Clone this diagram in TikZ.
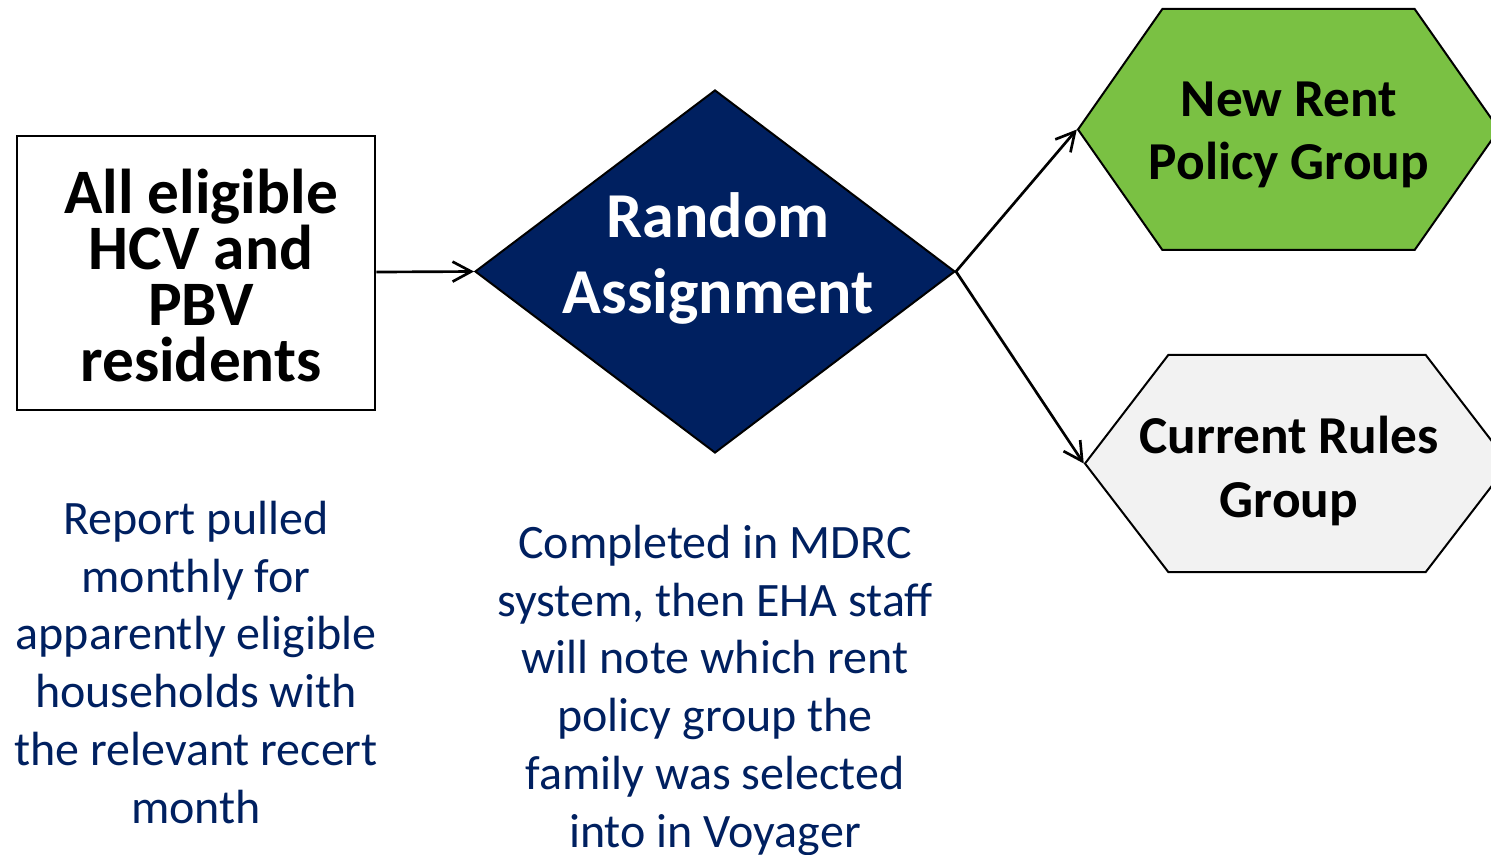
\documentclass[tikz,border=0pt]{standalone}
\usepackage{fontspec}
\setmainfont{Carlito}
\usetikzlibrary{shapes.geometric,shapes.symbols,arrows.meta}
\definecolor{navy}{HTML}{002060}
\definecolor{rentgreen}{HTML}{7AC143}
\definecolor{rulegray}{HTML}{F2F2F2}
\begin{document}
\begin{tikzpicture}[x=0.75pt,y=-0.75pt,line width=1.5pt,->,>={Straight Barb[length=14pt,width=15pt]}]
	\tikzstyle{pool}=[rectangle,draw=black,line width=2pt,fill=white,minimum width=268.5pt,minimum height=205.5pt,inner sep=0pt]
	\tikzstyle{decide}=[diamond,draw=black,fill=navy,minimum width=360pt,minimum height=272.25pt,inner sep=0pt]
	\tikzstyle{group}=[signal,signal to=west and east,draw=black,inner sep=0pt]
	\tikzstyle{bold}=[align=center,anchor=base,font=\fontsize{47.5}{42.2}\selectfont\bfseries]
	\tikzstyle{grouptext}=[align=center,anchor=base,font=\fontsize{40}{47.5}\selectfont\bfseries]
	\tikzstyle{note}=[text=navy,align=center,anchor=base,font=\fontsize{36}{43.3}\selectfont]
	\useasboundingbox (0,0) rectangle (1491,855);
	\clip (0,0) rectangle (1491,855);

	\node[pool] (pool) at (196,273) {};
	\node[bold] (pooltext) at (201,382) {All eligible\\HCV and\\PBV\\residents};
	\node[decide] (ra) at (715,271.5) {};
	\node[text=white,align=center,font=\fontsize{48}{57}\selectfont\bfseries] (ratext) at (718,258) {Random\\Assignment};
	\node[group,fill=rentgreen,signal pointer angle=110,minimum width=315.75pt,minimum height=180.75pt] (new) at (1288.5,129.5) {};
	\node[grouptext] (newtext) at (1289,180) {New Rent\\Policy Group};
	\node[group,fill=rulegray,signal pointer angle=105,minimum width=318pt,minimum height=162.75pt] (cur) at (1297,463.5) {};
	\node[grouptext] (curtext) at (1289,517) {Current Rules\\Group};

	\node[note] (pulled) at (196,823) {Report pulled\\monthly for\\apparently eligible\\households with\\the relevant recert\\month};
	\node[note] (mdrc) at (715,847) {Completed in MDRC\\system, then EHA staff\\will note which rent\\policy group the\\family was selected\\into in Voyager};

	\draw[line width=2pt] (pool) -- (ra.west);
	\draw[line width=2pt] (ra.east) -- (new.west);
	\draw[line width=2pt] (ra.east) -- (cur.west);
\end{tikzpicture}
\end{document}
